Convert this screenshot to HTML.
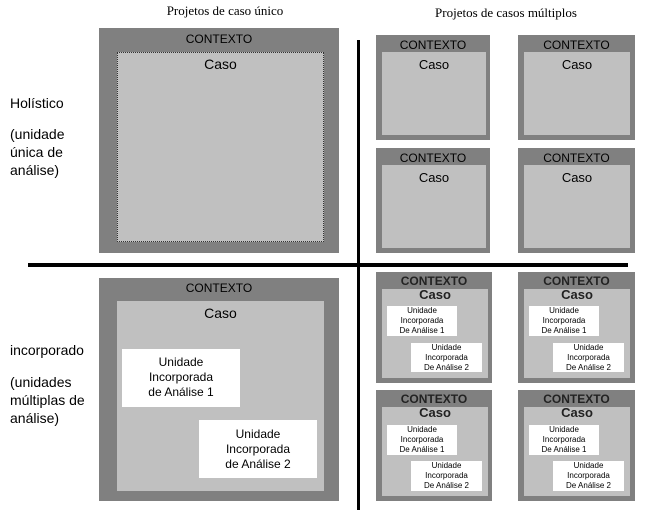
<!DOCTYPE html>
<html><head><meta charset="utf-8"><style>
body{margin:0;width:656px;height:528px;background:#fff;position:relative;overflow:hidden;font-family:"Liberation Sans",sans-serif;color:#000}
div{position:absolute;box-sizing:border-box}
.o{background:#808080}
.i{background:#c0c0c0}
.w{background:#fff;text-align:center}
.t{text-align:center;white-space:nowrap}
.s{font-family:"Liberation Serif",serif;font-size:13px}
.l{font-size:14px;line-height:18px}
</style></head><body>
<div class="t s" style="left:140px;top:3px;width:170px">Projetos de caso único</div>
<div class="t s" style="left:420px;top:5px;width:172px">Projetos de casos múltiplos</div>

<div style="left:357px;top:40px;width:3px;height:470px;background:#000"></div>
<div style="left:28px;top:263px;width:600px;height:4px;background:#000"></div>

<div class="l" style="left:10px;top:94px">Holístico</div>
<div class="l" style="left:10px;top:125px">(unidade<br>única de<br>análise)</div>
<div class="l" style="left:10px;top:341px">incorporado</div>
<div class="l" style="left:10px;top:373px">(unidades<br>múltiplas de<br>análise)</div>

<!-- top-left big -->
<div class="o" style="left:99px;top:28px;width:240px;height:225px"></div>
<div class="t" style="left:99px;top:32px;width:240px;font-size:12px">CONTEXTO</div>
<div class="i" style="left:117px;top:52px;width:207px;height:190px;border:1px dotted #333"></div>
<div class="t" style="left:117px;top:56px;width:207px;font-size:14px">Caso</div>

<!-- bottom-left big -->
<div class="o" style="left:99px;top:278px;width:240px;height:223px"></div>
<div class="t" style="left:99px;top:281px;width:240px;font-size:12px">CONTEXTO</div>
<div class="i" style="left:117px;top:301px;width:207px;height:190px"></div>
<div class="t" style="left:117px;top:305px;width:207px;font-size:14px">Caso</div>
<div class="w" style="left:122px;top:349px;width:118px;height:58px;font-size:12px;line-height:15px;padding-top:6px">Unidade<br>Incorporada<br>de Análise 1</div>
<div class="w" style="left:199px;top:420px;width:118px;height:58px;font-size:12px;line-height:15px;padding-top:7px">Unidade<br>Incorporada<br>de Análise 2</div>

<!-- top-right small boxes -->
<div class="o" style="left:376px;top:35px;width:114px;height:105px"></div>
<div class="t" style="left:376px;top:38px;width:114px;font-size:12px">CONTEXTO</div>
<div class="i" style="left:382px;top:52px;width:104px;height:83px"></div>
<div class="t" style="left:382px;top:57px;width:104px;font-size:13px">Caso</div>

<div class="o" style="left:518px;top:35px;width:117px;height:105px"></div>
<div class="t" style="left:518px;top:38px;width:117px;font-size:12px">CONTEXTO</div>
<div class="i" style="left:524px;top:52px;width:106px;height:83px"></div>
<div class="t" style="left:524px;top:57px;width:106px;font-size:13px">Caso</div>

<div class="o" style="left:376px;top:148px;width:114px;height:105px"></div>
<div class="t" style="left:376px;top:151px;width:114px;font-size:12px">CONTEXTO</div>
<div class="i" style="left:382px;top:165px;width:104px;height:83px"></div>
<div class="t" style="left:382px;top:170px;width:104px;font-size:13px">Caso</div>

<div class="o" style="left:518px;top:148px;width:117px;height:105px"></div>
<div class="t" style="left:518px;top:151px;width:117px;font-size:12px">CONTEXTO</div>
<div class="i" style="left:524px;top:165px;width:106px;height:83px"></div>
<div class="t" style="left:524px;top:170px;width:106px;font-size:13px">Caso</div>

<!-- bottom-right small boxes -->
<div class="o" style="left:376px;top:272px;width:116px;height:111px"></div>
<div class="t" style="left:376px;top:274px;width:116px;font-size:12px;font-weight:bold;color:#222">CONTEXTO</div>
<div class="i" style="left:382px;top:289px;width:106px;height:89px"></div>
<div class="t" style="left:382px;top:287px;width:106px;font-size:13px;font-weight:bold;color:#222">Caso</div>
<div class="w" style="left:387px;top:306px;width:70px;height:30px;font-size:8px;line-height:10px">Unidade<br>Incorporada<br>De Análise 1</div>
<div class="w" style="left:411px;top:343px;width:71px;height:29px;font-size:8px;line-height:10px">Unidade<br>Incorporada<br>De Análise 2</div>

<div class="o" style="left:518px;top:272px;width:117px;height:111px"></div>
<div class="t" style="left:518px;top:274px;width:117px;font-size:12px;font-weight:bold;color:#222">CONTEXTO</div>
<div class="i" style="left:524px;top:289px;width:106px;height:89px"></div>
<div class="t" style="left:524px;top:287px;width:106px;font-size:13px;font-weight:bold;color:#222">Caso</div>
<div class="w" style="left:529px;top:306px;width:70px;height:30px;font-size:8px;line-height:10px">Unidade<br>Incorporada<br>De Análise 1</div>
<div class="w" style="left:553px;top:343px;width:71px;height:29px;font-size:8px;line-height:10px">Unidade<br>Incorporada<br>De Análise 2</div>

<div class="o" style="left:376px;top:390px;width:116px;height:111px"></div>
<div class="t" style="left:376px;top:392px;width:116px;font-size:12px;font-weight:bold;color:#222">CONTEXTO</div>
<div class="i" style="left:382px;top:407px;width:106px;height:89px"></div>
<div class="t" style="left:382px;top:405px;width:106px;font-size:13px;font-weight:bold;color:#222">Caso</div>
<div class="w" style="left:387px;top:425px;width:70px;height:30px;font-size:8px;line-height:10px">Unidade<br>Incorporada<br>De Análise 1</div>
<div class="w" style="left:411px;top:461px;width:71px;height:30px;font-size:8px;line-height:10px">Unidade<br>Incorporada<br>De Análise 2</div>

<div class="o" style="left:518px;top:390px;width:117px;height:111px"></div>
<div class="t" style="left:518px;top:392px;width:117px;font-size:12px;font-weight:bold;color:#222">CONTEXTO</div>
<div class="i" style="left:524px;top:407px;width:106px;height:89px"></div>
<div class="t" style="left:524px;top:405px;width:106px;font-size:13px;font-weight:bold;color:#222">Caso</div>
<div class="w" style="left:529px;top:425px;width:70px;height:30px;font-size:8px;line-height:10px">Unidade<br>Incorporada<br>De Análise 1</div>
<div class="w" style="left:553px;top:461px;width:71px;height:30px;font-size:8px;line-height:10px">Unidade<br>Incorporada<br>De Análise 2</div>
</body></html>
